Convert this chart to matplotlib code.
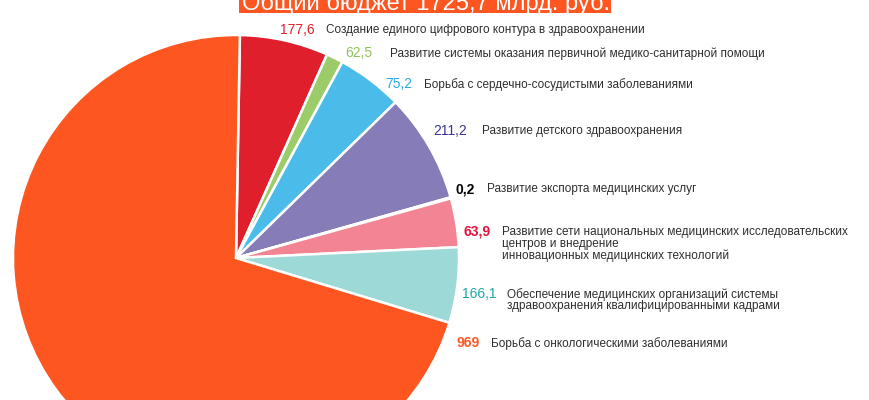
import matplotlib
matplotlib.use('Agg')
import matplotlib.pyplot as plt
from matplotlib.patches import Rectangle

plt.rcParams['font.family'] = ['Liberation Sans', 'DejaVu Sans']

# budget per project, bln rub (as printed)
values = [177.6, 62.5, 75.2, 211.2, 0.2, 63.9, 166.1, 969]
# slice sizes as drawn in the picture (degrees)
slice_deg = [23.1, 4.4, 17.2, 28.5, 0.3, 12.7, 19.7, 254.1]
names = [
    'Создание единого цифрового контура в здравоохранении',
    'Развитие системы оказания первичной медико-санитарной помощи',
    'Борьба с сердечно-сосудистыми заболеваниями',
    'Развитие детского здравоохранения',
    'Развитие экспорта медицинских услуг',
    'Развитие сети национальных медицинских исследовательских\nцентров и внедрение\nинновационных медицинских технологий',
    'Обеспечение медицинских организаций системы\nздравоохранения квалифицированными кадрами',
    'Борьба с онкологическими заболеваниями',
]
title = 'Общий бюджет 1725,7 млрд. руб.'

slice_colors = ['#E01F2D', '#9CCB6A', '#4BBCEA', '#857CB8', '#857CB8',
                '#F28493', '#9DD9D7', '#FE5621']
value_colors = ['#E0202F', '#8DC35A', '#29ABE2', '#3B3591', '#000000',
                '#E5123A', '#1FA6A6', '#FF5722']
value_bold = [False, False, False, False, True, True, False, True]

# label layout in pixels: value x, name x, y
label_pos = [(280, 326, 30), (345, 390, 53), (385, 424, 84), (433, 482, 131),
             (456, 487, 189), (464, 502, 232), (462, 507, 294), (457, 491, 343)]

W, H = 870, 400
fig = plt.figure(figsize=(W / 100, H / 100), dpi=100)
ax = fig.add_axes([0, 0, 1, 1])

ax.pie(slice_deg, colors=slice_colors, startangle=89, counterclock=False,
       center=(236, H - 258), radius=223,
       wedgeprops=dict(edgecolor='white', linewidth=1.8))

for v, name, c, b, (vx, nx, y) in zip(values, names, value_colors, value_bold, label_pos):
    txt = f'{v:g}'.replace('.', ',')
    ax.text(vx, H - y, txt, color=c, fontsize=10,
            fontweight='bold' if b else 'normal', ha='left', va='center')
    ax.text(nx, H - y + 6, name, color='#2E2E2E', fontsize=8.5,
            ha='left', va='top', linespacing=0.95)

ax.add_patch(Rectangle((239, H - 13), 372, 20, facecolor='#FE5621',
                       edgecolor='none', zorder=5))
ax.text(242, H - 10, title, color='white', fontsize=17, ha='left',
        va='baseline', zorder=6)

ax.set_xlim(0, W)
ax.set_ylim(0, H)
ax.set_aspect('auto')
ax.axis('off')

fig.savefig('out.png', dpi=100, facecolor='white')
